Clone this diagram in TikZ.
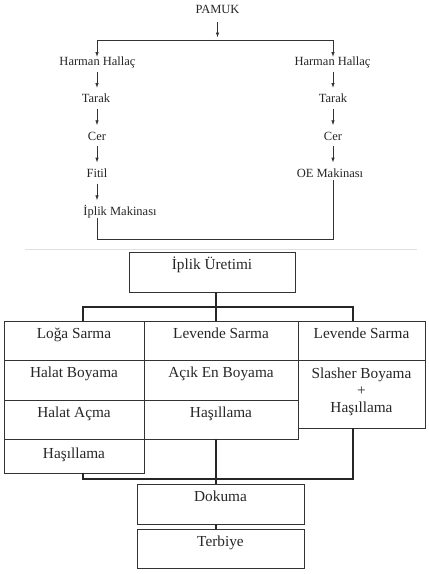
\documentclass[tikz,border=0pt]{standalone}
\usepackage{fontspec}
\setmainfont{Liberation Serif}
\usetikzlibrary{arrows.meta}
\begin{document}
\begin{tikzpicture}[x=1pt,y=-1pt,
 toptext/.style={font=\fontsize{12.5}{15}\selectfont, inner sep=0pt, text height=8.5pt, text depth=2.5pt, anchor=base, text=black!85},
 topline/.style={line width=0.8pt, draw=black!80},
 arr/.style={topline, -{Latex[length=5pt,width=3.5pt]}},
 chain/.style={arr, shorten <=3.5pt, shorten >=6pt},
 cell/.style={draw=black!80, line width=0.9pt, inner sep=0pt, font=\fontsize{15.3}{17}\selectfont, text height=17pt, text depth=22pt, text=black!85},
 conn/.style={line width=1.6pt, draw=black!85},
]
\useasboundingbox (0,0) rectangle (429,574);

% ---- top flow ----
\node[toptext] (pamuk) at (217.5,13.3) {PAMUK};
\coordinate (tl) at (97,40);
\coordinate (tm) at (217.5,40);
\coordinate (tr) at (333,40);

\node[toptext] (hl1) at (97.5,65.7) {Harman Hallaç};
\node[toptext] (ta1) at (96,102.7) {Tarak};
\node[toptext] (ce1) at (97,140) {Cer};
\node[toptext] (fi1) at (97,177.3) {Fitil};
\node[toptext] (ipm) at (120,215) {İplik Makinası};

\node[toptext] (hl2) at (332.5,65.7) {Harman Hallaç};
\node[toptext] (ta2) at (333,102.7) {Tarak};
\node[toptext] (ce2) at (333,140) {Cer};
\node[toptext] (oe) at (330,177.3) {OE Makinası};

\draw[arr, shorten <=6pt, shorten >=2.5pt] (pamuk.south) -- (tm);
\draw[topline] (tl) -- (tr);
\draw[arr] (tl) -- (tl |- hl1.north);
\draw[arr] (tr) -- (tr |- hl2.north);

\draw[chain] (tl |- hl1.south) -- (tl |- ta1.north);
\draw[chain] (tl |- ta1.south) -- (tl |- ce1.north);
\draw[chain] (tl |- ce1.south) -- (tl |- fi1.north);
\draw[chain] (tl |- fi1.south) -- (tl |- ipm.north);

\draw[chain] (tr |- hl2.south) -- (tr |- ta2.north);
\draw[chain] (tr |- ta2.south) -- (tr |- ce2.north);
\draw[chain] (tr |- ce2.south) -- (tr |- oe.north);

\coordinate (bl) at (97,239);
\coordinate (br) at (333,239);
\draw[topline] (bl |- ipm.south) -- (bl) -- (br) -- (br |- oe.south);

% separator
\draw[line width=0.8pt, draw=black!12] (25,249) -- (417,249);

% ---- bottom flow ----
\node[cell, minimum width=166pt, text depth=23pt] (ipu) at (212,272) {İplik Üretimi};

\node[cell, minimum width=140pt, text depth=22pt] (L1) at (74,340.5) {Loğa Sarma};
\node[cell, minimum width=140pt, text depth=23pt] (L2) at (74,380) {Halat Boyama};
\node[cell, minimum width=140pt, text depth=22pt] (L3) at (74,419.5) {Halat Açma};
\node[cell, minimum width=140pt, text height=19pt, text depth=15pt] (L4) at (74,456) {Haşıllama};

\node[cell, minimum width=154pt, text depth=22pt] (M1) at (221,340.5) {Levende Sarma};
\node[cell, minimum width=154pt, text depth=23pt] (M2) at (221,380) {Açık En Boyama};
\node[cell, minimum width=154pt, text depth=22pt] (M3) at (221,419.5) {Haşıllama};

\node[cell, minimum width=127pt, text depth=22pt] (R1) at (361.5,340.5) {Levende Sarma};
\node[cell, minimum width=127pt, minimum height=68pt, text height=0pt, text depth=0pt] (R2) at (361.5,394) {};
\node[font=\fontsize{15.3}{17}\selectfont, align=center, inner sep=0pt, anchor=north, text=black!85] (R2t) at ([yshift=-8pt]R2.north) {Slasher Boyama\\+\\Haşıllama};

\node[cell, minimum width=167pt, text depth=23pt] (dok) at (220.5,504) {Dokuma};
\node[cell, minimum width=167pt, text depth=22pt] (ter) at (220.5,548.5) {Terbiye};

\coordinate (ja) at (83,307);
\coordinate (jb) at (216,307);
\coordinate (jc) at (353,307);
\draw[conn] (jb |- ipu.south) -- (jb);
\draw[conn] (ja |- L1.north) -- (ja) -- (jc) -- (jc |- R1.north);
\draw[conn] (jb) -- (jb |- M1.north);

\coordinate (ka) at (83,479);
\coordinate (kb) at (216,479);
\coordinate (kc) at (353,479);
\draw[conn] (ka |- L4.south) -- (ka) -- (kc) -- (kc |- R2.south);
\draw[conn] (kb |- M3.south) -- (kb) -- (kb |- dok.north);
\draw[conn] (kb |- dok.south) -- (kb |- ter.north);
\end{tikzpicture}
\end{document}
